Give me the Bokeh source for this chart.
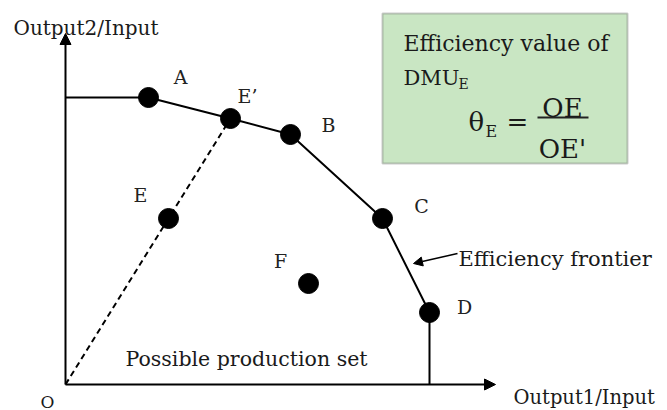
from bokeh.plotting import figure
from bokeh.models import ColumnDataSource, Arrow, NormalHead, BoxAnnotation, Label
from bokeh.embed import file_html
from bokeh.resources import INLINE
from bokeh.core.properties import value

# ---- data (schematic units) ----
frontier_names = ["A", "E’", "B", "C", "D"]
frontier_x = [8.3, 16.5, 22.5, 31.7, 36.4]
frontier_y = [28.7, 26.6, 25.0, 16.6, 7.2]

other_names = ["E", "F"]
other_x = [10.3, 24.3]
other_y = [16.6, 10.1]

x_axis_len = 43.0
y_axis_len = 35.1

FONT = "DejaVu Serif"

# screen offsets of point labels (px, right / up)
label_dx = {"A": 32, "E’": 17, "B": 38, "C": 39, "D": 35, "E": -28, "F": -28}
label_dy = {"A": 21, "E’": 23, "B": 10, "C": 13, "D": 6, "E": 24, "F": 23}

# canvas-pixel to data helper (10 px per unit, origin at canvas px (65, 384))
def P(px, py):
    return (px - 65) / 10.0, (384 - py) / 10.0

W, H = 667, 410
x0, _ = P(0, 0)
x1, _ = P(W, 0)
_, y0 = P(0, H)
_, y1 = P(0, 0)

p = figure(width=W, height=H, x_range=(x0, x1), y_range=(y0, y1),
           output_backend="svg", toolbar_location=None, min_border=0)
p.axis.visible = False
p.grid.visible = False
p.outline_line_color = None
p.background_fill_color = "white"
p.border_fill_color = "white"

# box
bl, bt = P(382, 13)
br, bb = P(627, 163)
p.add_layout(BoxAnnotation(left=bl, right=br, top=bt, bottom=bb,
                           fill_color="#c9e6c3", fill_alpha=1.0,
                           line_color="#505050", line_width=2, level="underlay"))

# axes with arrows
p.add_layout(Arrow(end=NormalHead(size=11, fill_color="black", line_color="black"),
                   x_start=0, y_start=0, x_end=x_axis_len, y_end=0,
                   line_width=2, line_color="black"))
p.add_layout(Arrow(end=NormalHead(size=11, fill_color="black", line_color="black"),
                   x_start=0, y_start=0, x_end=0, y_end=y_axis_len,
                   line_width=2, line_color="black"))

# frontier polyline incl. horizontal / vertical extensions
fx = [0] + frontier_x + [frontier_x[-1]]
fy = [frontier_y[0]] + frontier_y + [0]
p.line(fx, fy, line_color="black", line_width=2)

# dashed ray O -> E'
p.line([0, frontier_x[1]], [0, frontier_y[1]], line_color="black",
       line_width=2, line_dash="6 4")

# points
all_names = frontier_names + other_names
all_x = frontier_x + other_x
all_y = frontier_y + other_y
src = ColumnDataSource(dict(x=all_x, y=all_y, name=all_names,
                            dx=[label_dx[n] for n in all_names],
                            dy=[-label_dy[n] for n in all_names]))
p.scatter("x", "y", source=src, size=20, color="black")
p.text("x", "y", text="name", source=src, x_offset="dx", y_offset="dy",
       text_align="center", text_baseline="middle",
       text_font=value(FONT), text_font_size="19px", text_color="#222")

def lab(text, px, py, size="20px", align="left", baseline="alphabetic"):
    x, y = P(px, py)
    p.add_layout(Label(x=x, y=y, text=text, text_font=FONT, text_font_size=size,
                       text_align=align, text_baseline=baseline, text_color="#1a1a1a"))

lab("Output2/Input", 13, 27)
lab("Output1/Input", 513, 397, size="19.5px")
lab("O", 47, 401, size="17px", align="center")
lab("Possible production set", 125, 358, size="20.5px")
lab("Efficiency frontier", 458, 258, size="21px")

# efficiency frontier pointer
ax0, ay0 = P(457, 253)
ax1, ay1 = P(413, 263)
p.add_layout(Arrow(end=NormalHead(size=9, fill_color="black", line_color="black"),
                   x_start=ax0, y_start=ay0, x_end=ax1, y_end=ay1,
                   line_width=1.5, line_color="black"))

# box texts
lab("Efficiency value of", 403, 43, size="22px")
lab("DMU", 403, 77, size="21px")
lab("E", 458, 83, size="14px")
lab("θ", 468, 121, size="26px")
lab("E", 485, 131, size="16px")
lab("=", 506, 121, size="26px")
lab("OE", 562, 107, size="26px", align="center")
lx0, ly = P(537, 117)
lx1, _ = P(588, 117)
p.line([lx0, lx1], [ly, ly], line_color="#222", line_width=2)
lab("OE'", 562, 148, size="26px", align="center")

open("out.html", "w").write(file_html(p, INLINE))
